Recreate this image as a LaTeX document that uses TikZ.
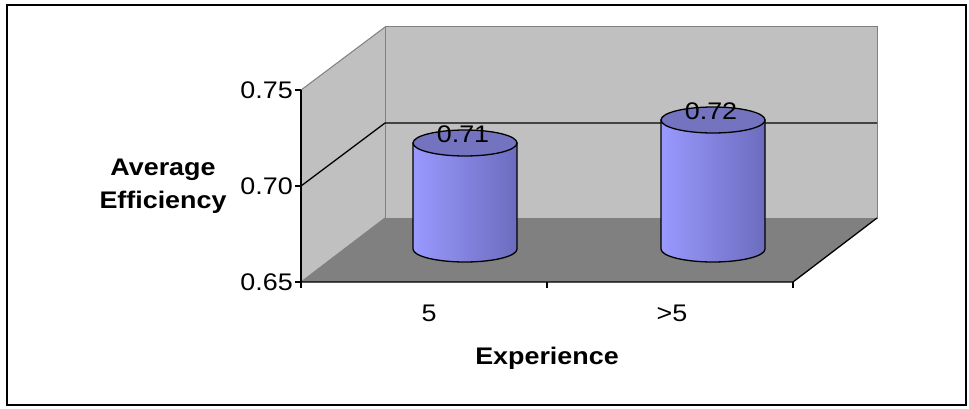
\documentclass[tikz,border=0pt]{standalone}
\usepackage{fontspec}
\setmainfont[FakeStretch=1.12]{Liberation Sans}
\definecolor{wallgray}{RGB}{192,192,192}
\definecolor{floorgray}{RGB}{128,128,128}
\definecolor{barlight}{RGB}{153,153,255}
\definecolor{bardark}{RGB}{108,108,190}
\definecolor{bartopc}{RGB}{115,115,191}
\tikzset{
  wallline/.style={draw=floorgray, line width=1pt},
  gridline/.style={line width=1.3pt},
  barside/.style={draw, line width=1.3pt, left color=barlight, right color=bardark},
  bartop/.style={draw, line width=1.3pt, fill=bartopc},
  ticklabel/.style={font=\fontsize{24}{28}\selectfont, inner sep=1pt},
  axistitle/.style={font=\bfseries\fontsize{24}{33}\selectfont, align=center},
}

\begin{document}
\begin{tikzpicture}[x=1pt,y=1pt]
  \useasboundingbox (0,0) rectangle (969,408);
  \draw[line width=2pt] (7,403) rectangle (966,3);
  % walls and floor
  \fill[wallgray] (385,190) rectangle (877,381);
  \fill[wallgray] (301,126) -- (385,190) -- (385,381) -- (301,318) -- cycle;
  \fill[floorgray] (301,126) -- (793,126) -- (877,190) -- (385,190) -- cycle;
  \draw[wallline] (385,190) rectangle (877,381);
  \draw[wallline] (301,318) -- (385,381);
  \draw[wallline] (301,126) -- (385,190);
  % gridline at 0.70
  \draw[gridline] (301,222) -- (385,285) -- (877,285);
  % floor edges and axes
  \draw[gridline] (301,126) -- (793,126) -- (877,190);
  \draw[gridline] (301,126) -- (301,318);
  \foreach \y/\v [count=\i] in {318/0.75,222/0.70,126/0.65} {
    \draw[gridline] (295,\y) -- (301,\y);
    \node[ticklabel, anchor=east] (ylab\i) at (294,\y) {\v};
  }
  \foreach \x in {301,547,793}
    \draw[gridline] (\x,126) -- (\x,120);
  % cylinders
  \foreach \cx/\ty/\v [count=\i] in {465/265/0.71,713/288/0.72} {
    \path[barside] (\cx-52,\ty) -- (\cx-52,159)
      arc[start angle=180, end angle=360, x radius=52pt, y radius=13pt]
      -- (\cx+52,\ty) -- cycle;
    \path[bartop] (\cx,\ty) ellipse[x radius=52pt, y radius=13pt];
    \node[ticklabel] (val\i) at (\cx-2,\ty+9) {\v};
  }
  % labels
  \node[axistitle] (ytitle) at (163,222) {Average\\Efficiency};
  \node[ticklabel] (cat1) at (429,95) {5};
  \node[ticklabel] (cat2) at (672,95) {>5};
  \node[axistitle] (xtitle) at (547,50) {Experience};
\end{tikzpicture}
\end{document}
